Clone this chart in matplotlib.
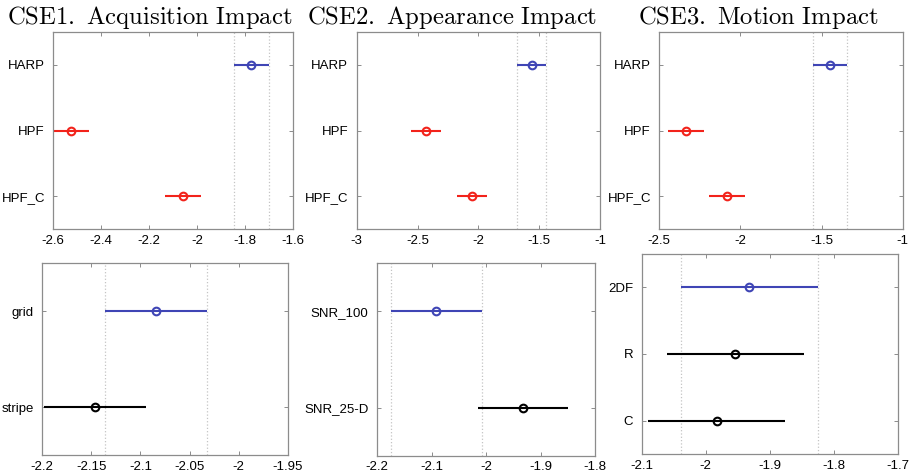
import matplotlib
matplotlib.use("Agg")
import matplotlib.pyplot as plt
from matplotlib.ticker import FuncFormatter
import numpy as np

plt.rcParams["font.family"] = ["Liberation Sans", "DejaVu Sans"]
plt.rcParams["mathtext.fontset"] = "cm"
plt.rcParams["axes.unicode_minus"] = False

# ---- data: group means and half-widths of comparison intervals ----
cse1_titles = "CSE1. Acquisition Impact"
cse1_groups = ["HARP", "HPF", "HPF_C"]
cse1_means = [-1.773, -2.526, -2.057]
cse1_half = [0.074, 0.075, 0.076]
cse1_ticks = [-2.6, -2.4, -2.2, -2.0, -1.8, -1.6]

cse2_titles = "CSE2. Appearance Impact"
cse2_groups = ["HARP", "HPF", "HPF_C"]
cse2_means = [-1.562, -2.428, -2.050]
cse2_half = [0.122, 0.122, 0.123]
cse2_ticks = [-3.0, -2.5, -2.0, -1.5, -1.0]

cse3_titles = "CSE3. Motion Impact"
cse3_groups = ["HARP", "HPF", "HPF_C"]
cse3_means = [-1.448, -2.334, -2.083]
cse3_half = [0.107, 0.110, 0.109]
cse3_ticks = [-2.5, -2.0, -1.5, -1.0]

tag_groups = ["grid", "stripe"]
tag_means = [-2.084, -2.146]
tag_half = [0.052, 0.052]
tag_ticks = [-2.2, -2.15, -2.1, -2.05, -2.0, -1.95]

snr_groups = ["SNR_100", "SNR_25-D"]
snr_means = [-2.091, -1.932]
snr_half = [0.083, 0.083]
snr_ticks = [-2.2, -2.1, -2.0, -1.9, -1.8]

motion_groups = ["2DF", "R", "C"]
motion_means = [-1.932, -1.954, -1.983]
motion_half = [0.107, 0.107, 0.107]
motion_ticks = [-2.1, -2.0, -1.9, -1.8, -1.7]

BLUE = "#3f45b5"
RED = "#f2231b"
BLACK = "#000000"
SPINE = "#8c8c8c"
REFLINE = "#c4c4c4"

W, H = 909, 476
fig = plt.figure(figsize=(W / 100, H / 100), dpi=100)


def px_axes(left, top, right, bottom):
    return fig.add_axes([left / W, 1 - bottom / H, (right - left) / W, (bottom - top) / H])


def comparison_panel(ax, groups, means, half, ticks):
    means = np.asarray(means)
    half = np.asarray(half)
    lo, hi = means - half, means + half
    n = len(groups)
    ypos = np.arange(1, n + 1)
    # reference interval of the first (highlighted) group
    ax.axvline(lo[0], color=REFLINE, ls=":", lw=0.9, zorder=1)
    ax.axvline(hi[0], color=REFLINE, ls=":", lw=0.9, zorder=1)
    for i in range(n):
        if i == 0:
            c = BLUE
        elif hi[i] < lo[0] or lo[i] > hi[0]:
            c = RED
        else:
            c = BLACK
        ax.plot([lo[i], hi[i]], [ypos[i], ypos[i]], color=c, lw=1.5, zorder=2,
                solid_capstyle="butt")
        ax.plot(means[i], ypos[i], "o", mfc="none", mec=c, ms=5.5, mew=1.5, zorder=3)
    ax.set_ylim(n + 0.5, 0.5)
    ax.set_yticks(ypos)
    ax.set_yticklabels(groups)
    ax.set_xlim(ticks[0], ticks[-1])
    ax.set_xticks(ticks)
    ax.xaxis.set_major_formatter(FuncFormatter(lambda v, p: "%g" % round(v, 4)))
    for s in ax.spines.values():
        s.set_color(SPINE)
        s.set_linewidth(0.9)
    ax.tick_params(axis="both", direction="in", length=3, width=0.7, color=SPINE,
                   top=True, right=True, labelsize=9.5, labelcolor="black")
    ax.tick_params(axis="y", pad=6)
    ax.tick_params(axis="x", pad=4)


top_panels = [
    ((53.3, 32, 292.7, 229), cse1_groups, cse1_means, cse1_half, cse1_ticks, cse1_titles, 150),
    ((356.7, 32, 600, 229), cse2_groups, cse2_means, cse2_half, cse2_ticks, cse2_titles, 452.5),
    ((659.3, 32, 902.7, 229), cse3_groups, cse3_means, cse3_half, cse3_ticks, cse3_titles, 758),
]
for box, g, m, h, t, title, tx in top_panels:
    ax = px_axes(*box)
    comparison_panel(ax, g, m, h, t)
    fig.text(tx / W, 1 - 24 / H, r"$\mathrm{" + title.replace(" ", r"\ ") + "}$",
             ha="center", va="baseline", fontsize=17.8)

bottom_panels = [
    ((42.3, 263.3, 287.7, 455), tag_groups, tag_means, tag_half, tag_ticks),
    ((377, 263.3, 595, 455.7), snr_groups, snr_means, snr_half, snr_ticks),
    ((641.7, 254, 897.7, 454), motion_groups, motion_means, motion_half, motion_ticks),
]
for box, g, m, h, t in bottom_panels:
    ax = px_axes(*box)
    comparison_panel(ax, g, m, h, t)

fig.savefig("out.png", dpi=100, facecolor="white")
